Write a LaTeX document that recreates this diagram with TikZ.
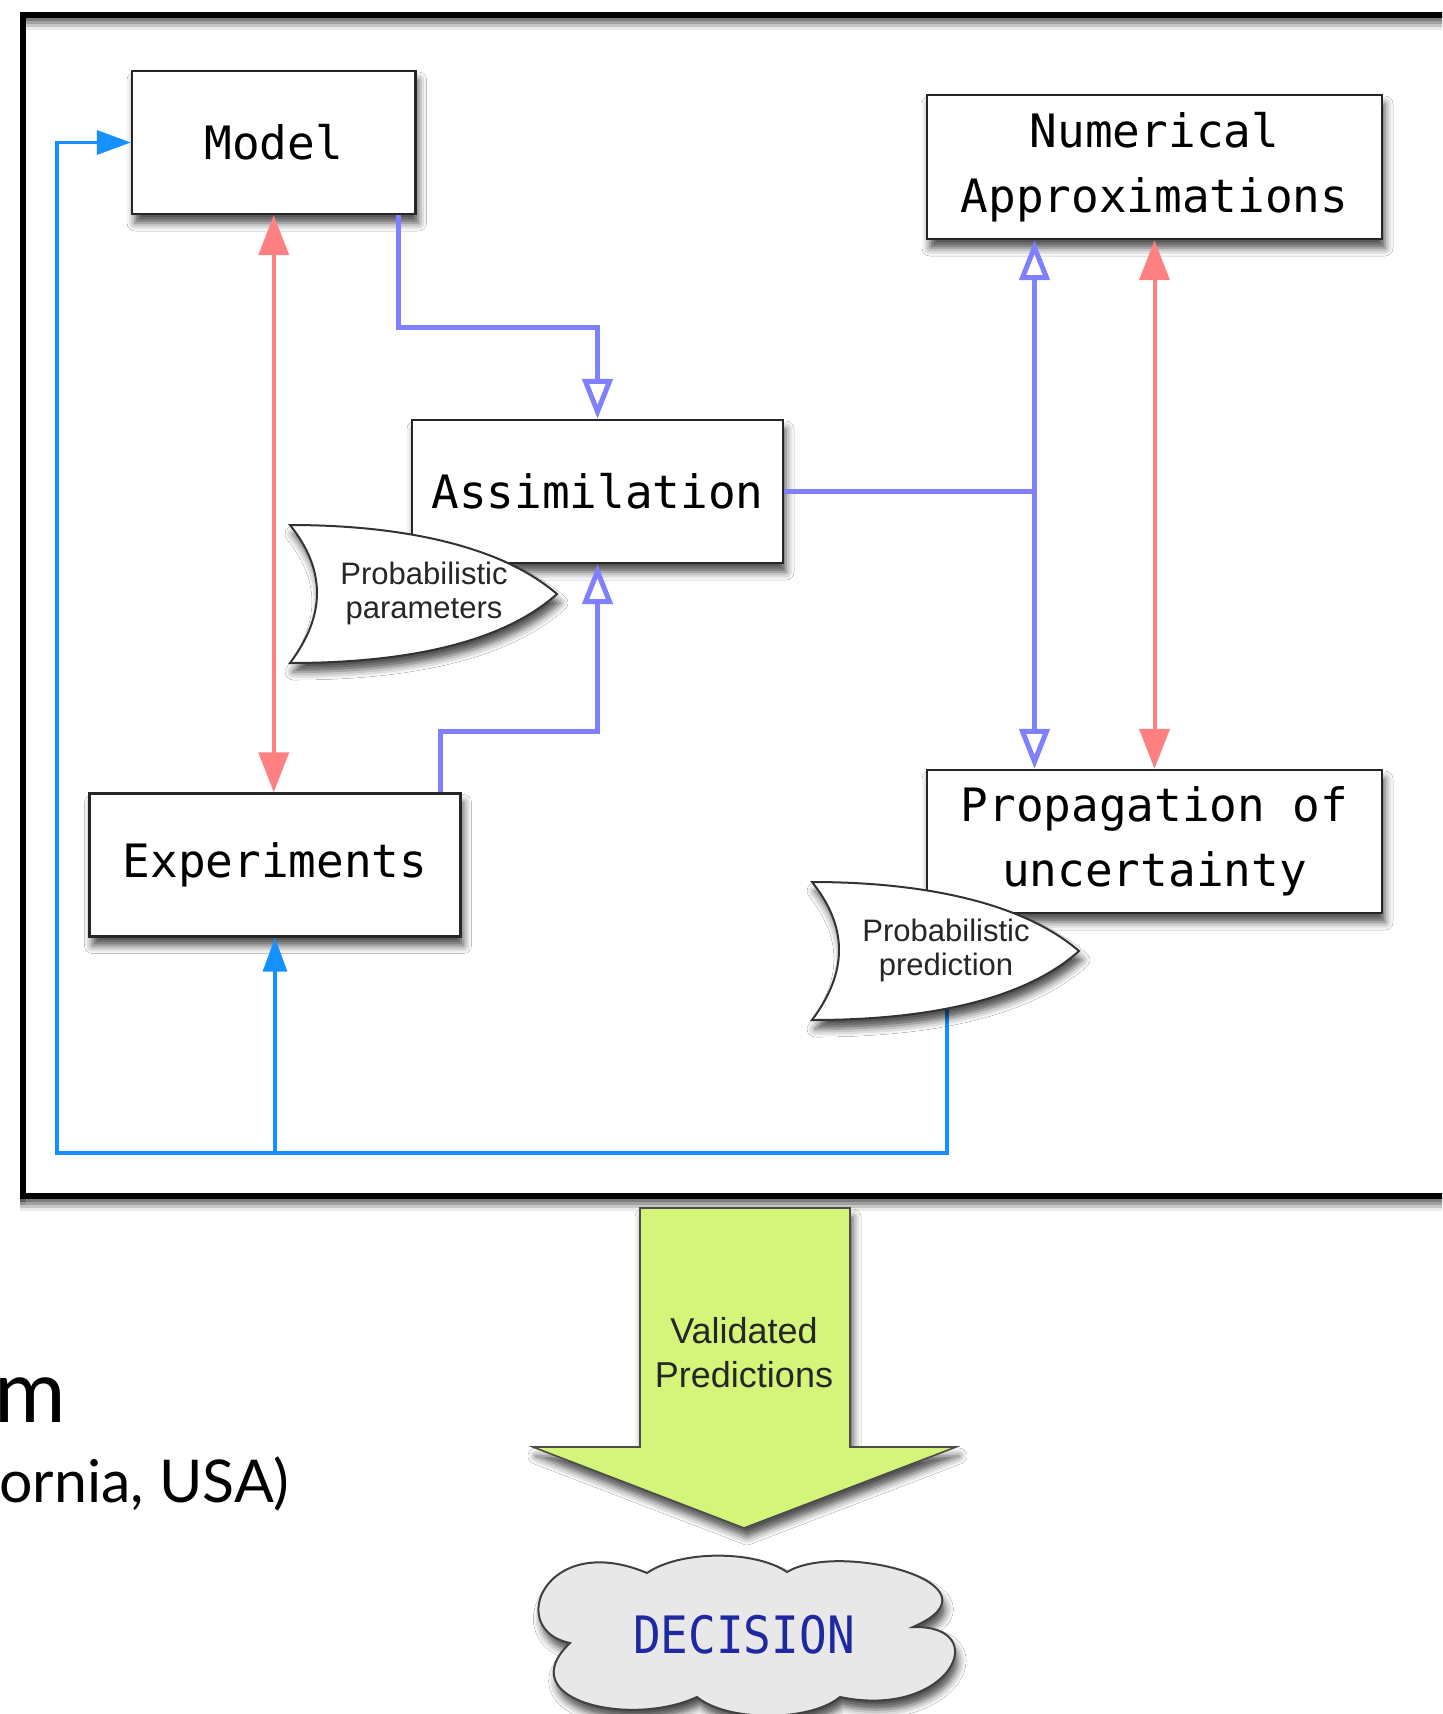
\documentclass[tikz,border=0pt]{standalone}
\usepackage{fontspec}
\setmainfont{Liberation Sans}
\newfontfamily\boxfont{DejaVu Sans Mono}
\newfontfamily\slidefont{Lato}
\usetikzlibrary{arrows.meta,calc,shadows.blur}

\definecolor{cPurple}{RGB}{128,128,255}
\definecolor{cRed}{RGB}{255,128,128}
\definecolor{cBlue}{RGB}{20,145,255}
\definecolor{cGreen}{RGB}{212,245,122}
\definecolor{cCloud}{RGB}{232,232,232}
\definecolor{cDecision}{RGB}{30,40,160}

\tikzset{
  softshadow/.style={blur shadow={shadow xshift=1.5pt,shadow yshift=-4.5pt,
      shadow blur radius=4pt,shadow opacity=70}},
  box/.style={draw=black!85, line width=1.2pt, fill=white, inner sep=0pt,
      align=center, font=\boxfont\fontsize{23pt}{32.5pt}\selectfont, softshadow},
  flow/.style={draw=cPurple, line width=2.5pt},
  check/.style={draw=cRed, line width=2pt},
  loop/.style={draw=cBlue, line width=1.75pt},
  otri/.tip={Triangle[open,length=20pt,width=15pt]},
  ftri/.tip={Triangle[length=20pt,width=15pt]},
  btri/.tip={Triangle[length=17pt,width=12pt]},
  flag/.pic={
    \path[draw=black!80, line width=1pt, fill=white, softshadow]
      (-134,-69) .. controls (-24,-69) and (76,-49) .. (133,0)
      .. controls (76,51) and (-24,69) .. (-134,69)
      .. controls (-98,21) and (-98,-24) .. cycle;
    \node[align=center, inner sep=0pt, text=black!85,
      font=\fontsize{15.5pt}{17pt}\selectfont] (-txt) at (0,-1) {#1};
  },
}

\begin{document}
\begin{tikzpicture}[x=0.5pt,y=-0.5pt]
\useasboundingbox (0,0) rectangle (1442,1714);
\clip (0,0) rectangle (1442,1714);
\fill[white] (0,0) rectangle (1442,1714);

% slide text behind the diagram
\node[anchor=base west, inner sep=0pt, font=\slidefont\fontsize{43.5pt}{50pt}\selectfont] (ttl) at (-6,1422) {m};
\node[anchor=base east, inner sep=0pt, font=\slidefont\fontsize{29.5pt}{35pt}\selectfont] (aff) at (290,1502) {ornia, USA)};

% outer frame with its soft shadow
\foreach \d/\o in {3/0.35,6/0.25,9/0.16,12/0.08}
  \draw[black, opacity=\o, line width=3pt] (23,15+\d) rectangle (1500,1196+\d);
\draw[line width=3pt] (23,15) rectangle (1500,1196);

% process boxes
\node[box, minimum width=141.75pt, minimum height=71.5pt] (model) at (273.75,142.5) {Model};
\node[box, minimum width=227.5pt, minimum height=72pt] (num) at (1154.5,167) {Numerical\\Approximations};
\node[box, minimum width=185.5pt, minimum height=71.5pt] (asm) at (597.5,491.5) {Assimilation};
\node[box, minimum width=185.5pt, minimum height=71.5pt] (exp) at (275,865) {Experiments};
\node[box, minimum width=227.5pt, minimum height=71.5pt] (prop) at (1154.5,841.5) {Propagation of\\uncertainty};

% connectors
\draw[check, ftri-ftri] (model.south) -- (model.south |- exp.north);
\draw[flow, -otri] ($(model.south east)+(-18,0)$) -- ++(0,112) -| (asm.north);
\draw[flow, -otri] ($(exp.north east)+(-21,0)$) -- ++(0,-61) -| (asm.south);
\coordinate (vx) at ($(num.south)+(-120,0)$);
\draw[flow, otri-otri] (vx) -- (vx |- prop.north);
\draw[flow] (asm.east) -- (asm.east -| vx);
\draw[check, ftri-ftri] (num.south) -- (prop.north);

\coordinate (predc) at (946,951);
\coordinate (loopcorner) at (57,1153);
\draw[loop, -btri] ($(predc)+(1,57)$) |- (loopcorner) |- (model.west);
\draw[loop, -btri] (exp.south |- loopcorner) -- (exp.south);

% probabilistic output flags
\pic (par) at (424,594) {flag={Probabilistic\\parameters}};
\pic (pred) at (predc) {flag={Probabilistic\\prediction}};

% validated predictions arrow
\path[draw=black!70, line width=0.8pt, fill=cGreen, softshadow]
  (640,1208) -- (850,1208) -- (850,1447) -- (956,1447) -- (744,1528)
  -- (533,1447) -- (640,1447) -- cycle;
\node[font=\fontsize{18pt}{22pt}\selectfont, align=center, text=black!85] (vp) at (744,1353) {Validated\\Predictions};

% decision cloud
\path[draw=black!75, line width=1pt, fill=cCloud, softshadow]
  (570,1643) .. controls (505,1630) and (545,1530) .. (647,1573)
  .. controls (680,1550) and (755,1550) .. (787,1572)
  .. controls (840,1540) and (1010,1585) .. (913,1627)
  .. controls (995,1625) and (950,1720) .. (840,1697)
  .. controls (810,1722) and (727,1722) .. (697,1697)
  .. controls (630,1728) and (510,1700) .. cycle;
\node[font=\boxfont\fontsize{23pt}{28pt}\selectfont, text=cDecision] (dec) at (744,1635) {\scalebox{1}[1.12]{DECISION}};
\end{tikzpicture}
\end{document}
